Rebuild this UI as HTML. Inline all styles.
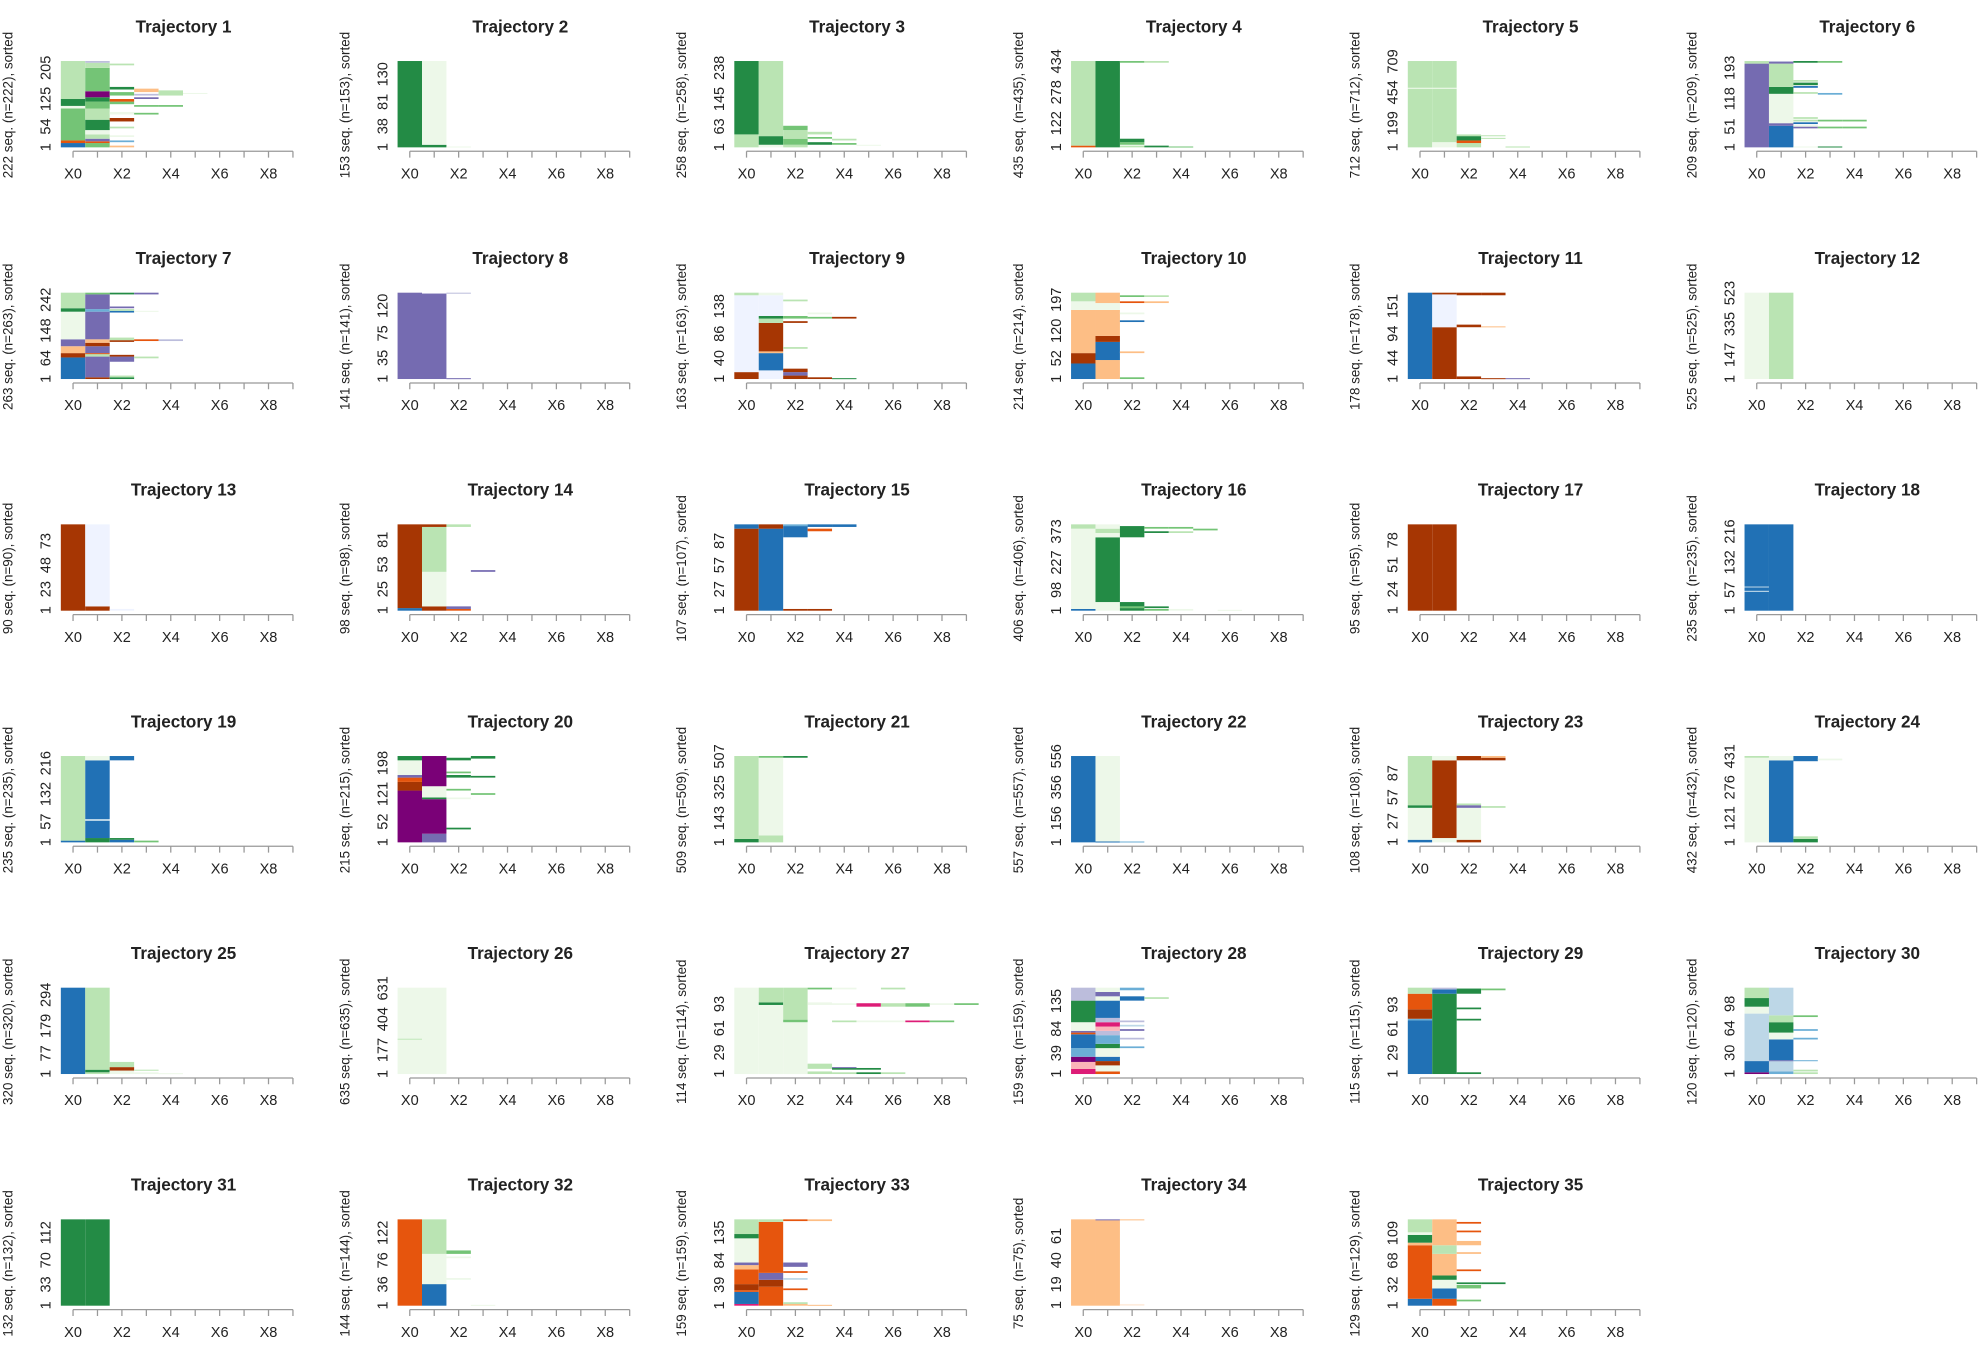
<!DOCTYPE html>
<html><head><meta charset="utf-8"><style>
html,body{margin:0;padding:0;background:#fff}
svg{display:block}
text{font-family:"Liberation Sans",sans-serif;fill:#222}
</style></head><body>
<svg id="chart" width="1985" height="1350" viewBox="0 0 1568 1066.4" xmlns="http://www.w3.org/2000/svg"></svg>
<script>
const palette={a:'#bae4b3',b:'#74c476',c:'#238b45',d:'#edf8e9',e:'#2171b5',f:'#bdd7e7',g:'#eff3ff',h:'#a63603',i:'#e6550d',j:'#fdbe85',k:'#756bb1',l:'#7a0177',m:'#bcbddc',n:'#dd1c77',o:'#6baed6',p:'#fbb4b9',q:'#feedde'};
const xTickLabels=['X0','','X2','','X4','','X6','','X8',''];
const seqCounts=[222,153,258,435,712,209,263,141,163,214,178,525,90,98,107,406,95,235,235,215,509,557,108,432,320,635,114,159,115,120,132,144,159,75,129];
const yTicks=[[1,54,125,205],[1,38,81,130],[1,63,145,238],[1,122,278,434],[1,199,454,709],[1,51,118,193],[1,64,148,242],[1,35,75,120],[1,40,86,138],[1,52,120,197],[1,44,94,151],[1,147,335,523],[1,23,48,73],[1,25,53,81],[1,27,57,87],[1,98,227,373],[1,24,51,78],[1,57,132,216],[1,57,132,216],[1,52,121,198],[1,143,325,507],[1,156,356,556],[1,27,57,87],[1,121,276,431],[1,77,179,294],[1,177,404,631],[1,29,61,93],[1,39,84,135],[1,29,61,93],[1,30,64,98],[1,33,70,112],[1,36,76,122],[1,39,84,135],[1,19,40,61],[1,32,68,109]];
const blocks=[
[[[0,.05,'e'],[.05,.08,'i'],[.08,.45,'b'],[.45,.48,'d'],[.48,.56,'c'],[.56,1,'a']],[[0,.05,'b'],[.05,.07,'i'],[.07,.1,'k'],[.1,.15,'a'],[.15,.2,'d'],[.2,.32,'c'],[.32,.45,'a'],[.45,.53,'b'],[.53,.58,'c'],[.58,.65,'l'],[.65,.92,'b'],[.92,.98,'a'],[.98,1,'m']],[[0,.02,'j'],[.06,.08,'o'],[.12,.14,'d'],[.22,.24,'a'],[.3,.34,'h'],[.38,.41,'d'],[.5,.53,'b'],[.53,.56,'i'],[.6,.64,'b'],[.67,.7,'c'],[.95,.97,'a']],[[.38,.4,'b'],[.47,.49,'b'],[.56,.58,'k'],[.6,.62,'m'],[.64,.68,'j']],[[.6,.66,'a'],[.47,.49,'b']],[[.62,.63,'d']]],
[[[0,1,'c']],[[0,.03,'c'],[.03,1,'d']],[[0,.01,'d']]],
[[[0,.15,'a'],[.15,1,'c']],[[0,.03,'d'],[.03,.13,'c'],[.13,1,'a']],[[0,.03,'a'],[.03,.1,'b'],[.1,.2,'a'],[.2,.25,'b']],[[.03,.06,'c'],[.1,.12,'b'],[.15,.18,'a']],[[.03,.05,'b'],[.08,.1,'a']],[[.02,.03,'d']]],
[[[0,.02,'i'],[.02,1,'a']],[[0,1,'c']],[[0,.02,'a'],[.03,.06,'b'],[.06,.1,'c'],[.98,1,'b']],[[0,.02,'c'],[.98,1,'a']],[[0,.01,'b']]],
[[[0,.68,'a'],[.68,.69,'d'],[.69,1,'a']],[[0,.06,'d'],[.06,.68,'a'],[.68,.69,'d'],[.69,1,'a']],[[0,.05,'a'],[.05,.08,'i'],[.08,.13,'c'],[.13,.15,'a']],[[.1,.11,'a'],[.13,.14,'a']],[[0,.01,'a']]],
[[[0,.97,'k'],[.97,1,'a']],[[0,.25,'e'],[.25,.28,'k'],[.28,.62,'d'],[.62,.7,'c'],[.7,.97,'a'],[.97,.99,'k'],[.99,1,'m']],[[0,.01,'d'],[.22,.24,'k'],[.24,.26,'d'],[.27,.29,'e'],[.3,.32,'a'],[.33,.35,'a'],[.62,.64,'a'],[.69,.71,'e'],[.72,.75,'c'],[.76,.78,'a'],[.98,1,'c']],[[0,.01,'c'],[.22,.24,'b'],[.3,.32,'b'],[.61,.63,'o'],[.98,1,'b']],[[.22,.24,'b'],[.3,.32,'b']]],
[[[0,.25,'e'],[.25,.3,'h'],[.3,.38,'j'],[.38,.46,'k'],[.46,.78,'d'],[.78,.82,'c'],[.82,1,'a']],[[0,.02,'h'],[.02,.26,'k'],[.26,.29,'a'],[.29,.3,'i'],[.3,.38,'k'],[.38,.42,'h'],[.42,.46,'j'],[.46,.78,'k'],[.78,.81,'o'],[.81,.98,'k'],[.98,1,'b']],[[0,.02,'c'],[.02,.04,'a'],[.2,.26,'k'],[.26,.28,'h'],[.43,.45,'h'],[.45,.48,'a'],[.77,.79,'e'],[.79,.81,'a'],[.82,.84,'k'],[.98,1,'c']],[[.24,.26,'a'],[.44,.46,'i'],[.78,.79,'d'],[.98,1,'k']],[[.44,.46,'m']]],
[[[0,1,'k']],[[0,.99,'k']],[[0,.01,'k'],[.99,1,'m']]],
[[[0,.08,'h'],[.08,.97,'g'],[.97,1,'a']],[[0,.1,'g'],[.1,.3,'e'],[.3,.32,'j'],[.32,.65,'h'],[.65,.7,'a'],[.7,.73,'c'],[.73,.97,'g'],[.97,1,'d']],[[0,.04,'h'],[.04,.08,'k'],[.08,.12,'h'],[.35,.37,'a'],[.65,.67,'h'],[.7,.73,'b'],[.9,.92,'a']],[[0,.02,'h'],[.7,.72,'b'],[.75,.77,'d']],[[0,.01,'c'],[.7,.72,'h']]],
[[[0,.18,'e'],[.18,.3,'h'],[.3,.8,'j'],[.8,.9,'d'],[.9,1,'a']],[[0,.22,'j'],[.22,.43,'e'],[.43,.5,'h'],[.5,.8,'j'],[.8,.88,'d'],[.88,1,'j']],[[0,.02,'b'],[.3,.32,'j'],[.66,.68,'e'],[.75,.77,'d'],[.88,.9,'i'],[.95,.97,'b']],[[.88,.9,'j'],[.95,.97,'a']]],
[[[0,1,'e']],[[0,.6,'h'],[.6,.98,'g'],[.98,1,'h']],[[0,.03,'h'],[.6,.63,'h'],[.97,1,'h']],[[0,.01,'h'],[.6,.61,'j'],[.97,1,'h']],[[0,.01,'k']]],
[[[0,1,'d']],[[0,1,'a']]],
[[[0,1,'h']],[[0,.05,'h'],[.05,1,'g']],[[0,.02,'g']]],
[[[0,.03,'e'],[.03,1,'h']],[[0,.05,'h'],[.05,.45,'d'],[.45,.97,'a'],[.97,1,'h']],[[0,.02,'i'],[.02,.05,'k'],[.97,1,'a']],[[.45,.47,'k']]],
[[[0,.95,'h'],[.95,1,'e']],[[0,.95,'e'],[.95,1,'h']],[[0,.02,'h'],[.85,.98,'e'],[.98,1,'o']],[[0,.02,'h'],[.92,.95,'i'],[.97,1,'e']],[[.97,1,'e']]],
[[[0,.02,'e'],[.02,.95,'d'],[.95,1,'a']],[[0,.1,'d'],[.1,.85,'c'],[.85,.9,'d'],[.9,.95,'a'],[.95,1,'d']],[[0,.03,'c'],[.03,.05,'b'],[.05,.1,'c'],[.85,.98,'c']],[[0,.02,'b'],[.03,.05,'c'],[.9,.92,'c'],[.95,.97,'b']],[[0,.02,'d'],[.9,.92,'a'],[.95,.97,'b']],[[.93,.95,'b']],[[0,.01,'d']]],
[[[0,1,'h']],[[0,1,'h']]],
[[[0,.22,'e'],[.22,.23,'f'],[.23,.27,'e'],[.27,.28,'f'],[.28,1,'e']],[[0,1,'e']]],
[[[0,.02,'e'],[.02,1,'a']],[[0,.05,'c'],[.05,.25,'e'],[.25,.27,'f'],[.27,.95,'e'],[.95,1,'d']],[[0,.03,'e'],[.03,.05,'c'],[.95,1,'e']],[[0,.02,'b']]],
[[[0,.6,'l'],[.6,.7,'h'],[.7,.75,'i'],[.75,.78,'k'],[.78,.95,'d'],[.95,1,'c']],[[0,.1,'k'],[.1,.5,'l'],[.5,.52,'c'],[.52,.65,'d'],[.65,1,'l']],[[.15,.17,'c'],[.5,.52,'d'],[.6,.62,'b'],[.75,.78,'c'],[.8,.82,'b'],[.95,.98,'c']],[[.55,.57,'b'],[.75,.77,'c'],[.97,1,'c']]],
[[[0,.04,'c'],[.04,1,'a']],[[0,.08,'a'],[.08,.98,'d'],[.98,1,'b']],[[.98,1,'c']]],
[[[0,1,'e']],[[0,.01,'e'],[.01,1,'d']],[[0,.01,'o']]],
[[[0,.03,'e'],[.03,.4,'d'],[.4,.43,'c'],[.43,1,'a']],[[0,.05,'d'],[.05,.95,'h'],[.95,1,'d']],[[0,.03,'h'],[.03,.4,'d'],[.4,.43,'k'],[.43,.45,'a'],[.95,1,'h']],[[.4,.42,'a'],[.95,.98,'h'],[.98,1,'j']]],
[[[0,.98,'d'],[.98,1,'a']],[[0,.95,'e'],[.95,1,'d']],[[0,.04,'c'],[.04,.07,'a'],[.94,1,'e']],[[.95,.97,'d']]],
[[[0,1,'e']],[[0,.02,'a'],[.02,.05,'c'],[.05,1,'a']],[[0,.04,'d'],[.04,.08,'h'],[.08,.14,'a']],[[0,.02,'d'],[.04,.05,'a']],[[0,.01,'d']]],
[[[0,.4,'d'],[.4,.41,'a'],[.41,1,'d']],[[0,1,'d']]],
[[[0,1,'d']],[[0,.8,'d'],[.8,.83,'c'],[.83,1,'a']],[[0,.6,'d'],[.6,.63,'b'],[.63,1,'a']],[[0,.03,'a'],[.06,.12,'a'],[.8,.83,'d'],[.98,1,'b']],[[0,.02,'a'],[.05,.07,'c'],[.07,.08,'k'],[.6,.62,'a'],[.8,.82,'d'],[.98,1,'d']],[[0,.02,'c'],[.05,.07,'c'],[.6,.62,'d'],[.78,.82,'n']],[[0,.02,'a'],[.6,.62,'d'],[.78,.82,'a'],[.98,1,'a']],[[.6,.62,'n'],[.78,.82,'b']],[[.6,.62,'b'],[.8,.82,'d']],[[.8,.82,'b']]],
[[[0,.06,'n'],[.06,.14,'p'],[.14,.2,'l'],[.2,.3,'o'],[.3,.46,'e'],[.46,.48,'i'],[.48,.5,'k'],[.5,.6,'d'],[.6,.85,'c'],[.85,1,'m']],[[0,.03,'i'],[.03,.1,'d'],[.1,.15,'h'],[.15,.2,'e'],[.2,.3,'d'],[.3,.35,'c'],[.35,.45,'o'],[.45,.5,'m'],[.5,.55,'p'],[.55,.6,'n'],[.6,.65,'m'],[.65,.85,'e'],[.85,.9,'d'],[.9,.95,'k'],[.95,1,'d']],[[.3,.32,'o'],[.4,.42,'m'],[.5,.52,'k'],[.55,.57,'f'],[.6,.62,'m'],[.85,.9,'e'],[.97,1,'o']],[[.87,.89,'a']]],
[[[0,.62,'e'],[.62,.64,'o'],[.64,.75,'h'],[.75,.93,'i'],[.93,1,'a']],[[0,.93,'c'],[.93,.98,'e'],[.98,1,'m']],[[0,.02,'c'],[.62,.64,'c'],[.75,.77,'c'],[.93,.99,'c']],[[.97,.99,'b']]],
[[[0,.02,'l'],[.02,.15,'e'],[.15,.7,'f'],[.7,.78,'d'],[.78,.88,'c'],[.88,1,'a']],[[0,.03,'o'],[.03,.15,'f'],[.15,.16,'k'],[.16,.4,'e'],[.4,.48,'d'],[.48,.6,'c'],[.6,.68,'a'],[.68,1,'f']],[[0,.02,'a'],[.03,.05,'a'],[.15,.16,'o'],[.4,.42,'o'],[.5,.52,'o'],[.66,.68,'b']]],
[[[0,1,'c']],[[0,1,'c']]],
[[[0,1,'i']],[[0,.25,'e'],[.25,.6,'d'],[.6,1,'a']],[[.3,.32,'d'],[.55,.57,'d'],[.6,.64,'b']],[[0,.01,'d']]],
[[[0,.02,'n'],[.02,.16,'e'],[.16,.18,'i'],[.18,.25,'h'],[.25,.42,'i'],[.42,.47,'j'],[.47,.5,'k'],[.5,.78,'d'],[.78,.83,'c'],[.83,1,'a']],[[0,.22,'i'],[.22,.3,'h'],[.3,.38,'k'],[.38,.97,'i'],[.97,1,'a']],[[0,.02,'j'],[.02,.04,'a'],[.18,.2,'i'],[.3,.32,'f'],[.38,.4,'i'],[.45,.5,'k'],[.98,1,'i']],[[0,.01,'j'],[.98,1,'j']]],
[[[0,1,'j']],[[0,.99,'j'],[.99,1,'k']],[[0,.02,'q'],[.99,1,'j']]],
[[[0,.08,'e'],[.08,.7,'i'],[.7,.73,'j'],[.73,.82,'c'],[.82,.85,'d'],[.85,1,'a']],[[0,.08,'i'],[.08,.2,'e'],[.2,.3,'d'],[.3,.35,'c'],[.35,.6,'j'],[.6,.7,'a'],[.7,1,'j']],[[.05,.07,'b'],[.2,.24,'b'],[.25,.27,'c'],[.4,.42,'i'],[.6,.62,'j'],[.7,.75,'j'],[.85,.87,'i'],[.95,.97,'i']],[[.25,.27,'c']]]
];
const NS='http://www.w3.org/2000/svg';
const svg=document.getElementById('chart');
function mk(tag,attrs,parent){const e=document.createElementNS(NS,tag);for(const k in attrs)e.setAttribute(k,attrs[k]);(parent||svg).appendChild(e);return e;}
const PW=266,PH=183,X0=57.7,U=19.3,TOP=48.2,BOT=116.4,AXY=119.5;
seqCounts.forEach((n,p)=>{
  const ox=(p%6)*PW, oy=Math.floor(p/6)*PH;
  const g=mk('g',{transform:`translate(${ox},${oy})`});
  
  
  const xs=i=>X0+i*U;
  const ys=f=>BOT-f*(BOT-TOP);
  const t=mk('text',{x:145,y:25.5,'text-anchor':'middle','font-size':13.5,'font-weight':'bold'},g);
  t.textContent='Trajectory '+(p+1);
  
  
  const yl=mk('text',{transform:`translate(10,83) rotate(-90)`,'text-anchor':'middle','font-size':10.6},g);
  yl.textContent=`${n} seq. (n=${n}), sorted`;
  
  
  yTicks[p].forEach(v=>{
    const y=BOT-(v-0.5)/n*(BOT-TOP);
    const tt=mk('text',{transform:`translate(40,${y}) rotate(-90)`,'text-anchor':'middle','font-size':11.5},g);
    tt.textContent=v;
    
    
  });
  blocks[p].forEach((col,ci)=>{
    col.forEach(s=>{
      const r=mk('rect',{x:xs(ci)-U/2,y:ys(s[1]),width:U,height:Math.max(0.8,ys(s[0])-ys(s[1])),fill:palette[s[2]]},g);
      
      
    });
  });
  const ax=mk('path',{d:`M${xs(0)},${AXY}H${xs(9)}`+xTickLabels.map((_,i)=>`M${xs(i)},${AXY}v5`).join(''),stroke:'#999',fill:'none','stroke-width':1},g);
  
  
  xTickLabels.forEach((lab,i)=>{if(!lab)return;
    const xt=mk('text',{x:xs(i),y:141,'text-anchor':'middle','font-size':11.5},g);
    xt.textContent=lab;
    
    
  });
});
</script>
</body></html>
